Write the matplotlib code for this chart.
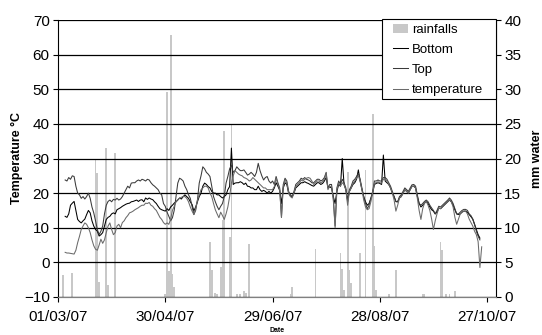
import matplotlib
matplotlib.use("Agg")
import matplotlib.pyplot as plt
import matplotlib.patches as mpatches
import pandas as pd

plt.rcParams['font.family'] = ['Liberation Sans', 'DejaVu Sans']

# ---------------- data ----------------
series_start = "2007-03-05"
temp_start = "2007-03-05"

bottom = [
    13.3, 13.0, 14.0, 16.5, 17.1, 17.6, 15.0, 12.4, 11.8, 11.4,
    12.0, 12.5, 13.8, 15.0, 14.3, 12.0, 10.5, 9.5, 9.0, 7.6,
    8.0, 8.6, 10.5, 12.4, 13.0, 13.3, 14.0, 14.3, 14.0, 15.2,
    15.5, 15.8, 16.2, 16.5, 16.8, 17.0, 17.1, 17.5, 17.6, 17.8,
    18.0, 17.6, 18.0, 18.1, 17.5, 18.6, 18.2, 18.6, 18.3, 18.1,
    17.5, 17.0, 16.2, 15.5, 15.2, 15.0, 14.8, 15.5, 15.0, 16.0,
    16.5, 17.1, 17.5, 18.0, 18.6, 18.3, 19.0, 19.5, 19.0, 18.5,
    17.5, 16.7, 14.8, 16.0, 17.5, 19.0, 20.0, 22.0, 22.9, 22.5,
    21.9, 21.5, 20.5, 20.0, 20.0, 19.5, 19.5, 19.0, 18.6, 19.0,
    19.5, 21.0, 21.9, 33.0, 22.5, 22.9, 23.0, 23.0, 23.3, 23.0,
    22.5, 22.9, 22.0, 21.9, 21.5, 21.5, 21.0, 21.0, 22.0, 21.0,
    20.5, 20.8, 20.5, 20.0, 20.5, 20.0, 20.5,
    21.5, 23.0, 22.0, 20.8, 17.0, 21.5, 23.0, 22.5, 20.0, 19.2,
    19.0, 20.0, 21.5, 22.0, 22.5, 23.0, 23.0, 23.3, 23.0, 22.8,
    22.5, 22.2, 22.0, 22.5, 23.0, 23.0, 22.5, 22.8, 23.5, 24.5,
    21.5, 21.8, 21.5, 19.0, 17.0, 20.5, 22.5, 22.0, 30.0, 22.5,
    21.0, 18.0, 20.5, 21.5, 22.5, 23.0, 24.0, 26.7, 23.5, 21.0,
    19.0, 17.5, 16.5, 17.0, 18.5, 20.0, 22.5, 22.8, 23.0, 22.8,
    22.5, 31.0, 23.5, 23.0, 22.5, 21.5, 20.0, 19.0, 17.6, 17.5,
    18.6, 19.0, 20.0, 21.0, 20.5, 20.0, 21.0, 22.0, 22.0, 21.5,
    19.0, 17.0, 16.0, 16.5, 17.1, 17.6, 17.0, 16.0, 15.2, 14.8,
    14.0, 14.5, 15.7, 15.5, 16.0, 16.5, 17.0, 17.5, 18.0, 17.5,
    16.5, 15.2, 14.0, 13.8, 14.0, 14.5, 14.8, 14.8, 14.5, 13.8,
    13.2, 12.5, 11.0, 9.5, 8.0, 7.0,
]

top = [
    23.8, 23.5, 24.5, 24.0, 25.0, 24.8, 22.0, 20.0, 19.5, 18.5,
    19.0, 18.3, 19.0, 20.0, 18.5, 16.0, 14.3, 12.0, 9.5, 8.0,
    9.0, 10.5, 14.0, 16.5, 17.6, 18.0, 17.5, 18.2, 18.0, 18.5,
    18.0, 18.3, 19.0, 20.0, 21.0, 22.0, 21.5, 22.9, 23.0, 23.0,
    23.5, 23.8, 23.5, 24.0, 23.8, 23.5, 24.0, 23.8, 23.0, 22.4,
    22.0, 21.5, 21.0, 20.0, 19.5, 17.0, 16.2, 14.5, 13.3, 12.0,
    12.9, 15.0, 19.0, 22.9, 24.3, 24.0, 23.5, 22.0, 21.0, 19.5,
    18.5, 16.2, 13.8, 15.0, 18.0, 22.9, 25.0, 27.6, 27.0, 26.0,
    25.5, 24.8, 22.0, 19.0, 17.5, 16.2, 15.2, 16.2, 17.0, 19.0,
    22.9, 24.8, 27.0, 28.1, 26.0, 26.5, 27.6, 27.0, 26.5, 26.5,
    26.7, 26.0, 25.2, 25.5, 26.0, 25.5, 24.8, 26.0, 28.6, 26.5,
    25.0, 23.8, 24.5, 24.8, 23.5, 22.9, 23.5,
    22.5, 24.8, 23.0, 21.5, 13.0, 22.5, 24.3, 23.5, 20.5, 19.5,
    19.0, 20.5, 22.5, 23.0, 23.5, 24.3, 24.0, 24.5, 24.0, 23.8,
    23.5, 23.0, 23.0, 23.5, 24.0, 24.0, 23.5, 23.8, 24.5, 26.0,
    21.5, 22.5, 22.5, 18.5, 10.5, 21.5, 23.5, 22.5, 24.0, 23.0,
    21.5, 17.5, 21.0, 22.0, 23.5, 24.0, 24.8, 25.7, 24.0, 21.5,
    19.0, 17.0, 15.5, 16.5, 18.5, 20.5, 23.5, 23.5, 23.8, 23.5,
    23.5, 24.5, 24.5, 24.0, 23.0, 22.0, 20.5, 19.0, 17.5, 17.5,
    19.0, 19.5, 20.5, 21.5, 21.0, 20.5, 21.5, 22.4, 22.5, 22.0,
    19.5, 17.0, 16.5, 17.0, 17.6, 18.0, 17.5, 16.5, 15.7, 15.0,
    14.0, 15.0, 16.2, 16.0, 16.5, 17.0, 17.5, 18.0, 18.6, 18.0,
    17.0, 15.5, 14.0, 14.0, 14.5, 15.0, 15.3, 15.3, 15.0, 14.0,
    13.5, 12.5, 11.0, 9.0, 7.6, 6.5,
]

temperature = [
    2.9, 2.7, 2.7, 2.6, 2.5, 2.4, 3.5, 5.7, 7.5, 9.5,
    10.5, 11.4, 11.0, 10.0, 8.6, 6.5, 4.8, 3.8, 3.5, 5.0,
    6.7, 5.5, 6.5, 8.6, 10.5, 11.4, 9.5, 8.0, 8.6, 10.5,
    11.0, 10.0, 11.5, 12.0, 12.9, 13.5, 14.3, 14.5, 14.8, 15.2,
    15.5, 15.8, 16.2, 16.5, 16.5, 17.1, 17.0, 17.3, 16.5, 16.2,
    15.5, 15.0, 14.0, 13.0, 12.4, 11.5, 11.0, 11.4, 11.0, 12.5,
    15.0, 16.2, 17.5, 18.1, 18.5, 18.8, 19.0, 19.0, 18.5, 17.5,
    16.0, 14.8, 13.8, 15.5, 18.0, 19.5, 21.0, 21.5, 22.0, 22.0,
    21.5, 20.0, 19.0, 17.0, 15.2, 14.0, 12.9, 14.5, 13.5, 12.4,
    14.0, 16.0, 19.0, 22.9, 25.0, 26.5, 26.0, 25.5, 25.2, 25.0,
    24.5, 24.3, 24.0, 23.5, 23.8, 24.5, 24.0, 23.5, 23.0, 22.5,
    22.0, 21.5, 21.5, 21.0, 21.0, 21.0, 21.0,
    21.9, 24.3, 22.5, 21.0, 13.0, 21.9, 23.8, 23.0, 20.0, 19.0,
    18.6, 20.0, 21.9, 22.5, 22.9, 23.8, 23.5, 24.0, 24.3, 24.5,
    24.3, 23.5, 22.5, 23.0, 23.5, 23.5, 23.0, 23.3, 24.0, 25.7,
    21.0, 22.0, 21.9, 18.1, 10.0, 21.0, 22.9, 22.0, 23.0, 22.5,
    21.0, 16.5, 20.5, 21.5, 22.9, 23.5, 24.3, 25.0, 23.5, 21.0,
    18.0, 16.0, 15.2, 15.5, 17.5, 20.0, 22.9, 23.0, 23.3, 23.0,
    22.9, 24.0, 24.0, 23.5, 22.5, 21.5, 20.0, 18.0, 14.8, 16.5,
    18.6, 19.0, 20.0, 21.0, 20.5, 20.0, 21.0, 21.9, 22.0, 21.5,
    18.5, 15.0, 12.4, 15.5, 17.1, 17.6, 16.5, 15.0, 12.5, 9.5,
    12.0, 14.0, 15.7, 15.5, 16.0, 16.5, 17.0, 17.5, 18.1, 17.5,
    16.0, 13.0, 11.0, 12.5, 14.0, 14.5, 14.8, 14.8, 14.0, 12.5,
    11.5, 10.5, 9.0, 8.0, 6.0, -1.5, 4.5,
]

rain_dates = [
    "2007-03-04", "2007-03-09", "2007-03-22", "2007-03-23", "2007-03-24",
    "2007-03-28", "2007-03-29", "2007-04-02", "2007-04-30", "2007-05-01",
    "2007-05-02", "2007-05-03", "2007-05-04", "2007-05-05", "2007-05-25",
    "2007-05-26", "2007-05-28", "2007-05-29", "2007-05-31", "2007-06-01",
    "2007-06-02", "2007-06-05", "2007-06-06", "2007-06-09", "2007-06-11",
    "2007-06-13", "2007-06-14", "2007-06-16", "2007-07-09", "2007-07-10",
    "2007-07-23", "2007-08-06", "2007-08-07", "2007-08-08", "2007-08-10",
    "2007-08-11", "2007-08-12", "2007-08-17", "2007-08-20", "2007-08-24",
    "2007-08-25", "2007-08-26", "2007-09-02", "2007-09-06", "2007-09-21",
    "2007-09-22", "2007-10-01", "2007-10-02", "2007-10-04", "2007-10-06",
    "2007-10-09",
]
rain_mm = [
    3.2, 3.5, 20.0, 17.9, 2.2,
    21.5, 1.7, 20.8, 0.5, 29.6,
    3.7, 37.9, 3.3, 1.4, 8.0,
    3.9, 0.6, 0.5, 4.4, 11.1,
    24.0, 8.7, 25.0, 0.5, 0.5,
    0.8, 0.6, 7.6, 0.5, 1.5,
    7.0, 6.3, 4.0, 1.0, 18.0,
    3.9, 2.0, 6.3, 18.3, 26.4,
    7.3, 1.0, 0.5, 3.9, 0.5,
    0.5, 8.0, 6.8, 0.4, 0.5,
    0.8,
]

tick_labels = ["01/03/07", "30/04/07", "29/06/07", "28/08/07", "27/10/07"]
left_ticks = [-10, 0, 10, 20, 30, 40, 50, 60, 70]
right_ticks = [0, 5, 10, 15, 20, 25, 30, 35, 40]
legend_labels = ["rainfalls", "Bottom", "Top", "temperature"]

# ---------------- figure ----------------
W, H = 542, 335
fig = plt.figure(figsize=(W / 100, H / 100), dpi=100)
L, R, T, B = 58, 496, 20, 297
ax = fig.add_axes([L / W, 1 - B / H, (R - L) / W, (B - T) / H])
ax2 = ax.twinx()
ax.set_zorder(ax2.get_zorder() + 1)
ax.patch.set_visible(False)

d_lines = pd.date_range(series_start, periods=len(bottom), freq="D")
d_temp = pd.date_range(temp_start, periods=len(temperature), freq="D")
d_rain = pd.to_datetime(rain_dates)

bars = ax2.bar(d_rain, rain_mm, width=1.0, color="#c8c8c8", linewidth=0,
               label="rainfalls")
l1, = ax.plot(d_lines, bottom, color="#000000", lw=0.75, label="Bottom")
l2, = ax.plot(d_lines, top, color="#3a3a3a", lw=0.75, label="Top")
l3, = ax.plot(d_temp, temperature, color="#6a6a6a", lw=0.75, label="temperature")

xt = pd.to_datetime(tick_labels, format="%d/%m/%y")
ax.set_xlim(pd.Timestamp("2007-03-01"), pd.Timestamp("2007-11-01"))
ax.set_xticks(xt)
ax.set_xticklabels(tick_labels)
ax.set_ylim(-10, 70)
ax.set_yticks(left_ticks)
ax2.set_ylim(0, 40)
ax2.set_yticks(right_ticks)

ax.yaxis.grid(True, color="#000000", lw=0.9)
ax.set_axisbelow(True)

for a in (ax, ax2):
    a.spines["top"].set_visible(False)
    a.spines["bottom"].set_color("#808080")
    a.spines["left"].set_color("#000000")
    a.spines["right"].set_color("#000000")
ax2.spines["left"].set_visible(False)
ax.spines["right"].set_visible(False)

ax.tick_params(axis="y", direction="out", length=3.5, width=0.8, pad=2.5,
               labelsize=11)
ax.tick_params(axis="x", direction="out", length=3.5, width=0.8, pad=6,
               labelsize=11, color="#000000")
ax2.tick_params(axis="y", direction="out", length=3.5, width=0.8, pad=2.5,
                labelsize=11)

ax.set_ylabel("Temperature °C", fontsize=9, fontweight="bold",
              rotation=90, va="center", ha="center", rotation_mode="default")
ax.yaxis.set_label_coords((16.5 - L) / (R - L), 0.5)
ax2.set_ylabel("mm water", fontsize=9, fontweight="bold",
               rotation=90, va="center", ha="center", rotation_mode="default")
ax2.yaxis.set_label_coords((537 - L) / (R - L), 0.5)
ax.set_xlabel("Date", fontsize=5, fontweight="bold")
ax.xaxis.set_label_coords(0.5, (B - 327.5) / (B - T))

# legend: frame drawn separately so that padding matches the reference
leg = ax.legend([bars, l1, l2, l3], legend_labels,
                loc="upper left", bbox_to_anchor=(393 / W, 1 - 23.5 / H),
                bbox_transform=fig.transFigure, borderaxespad=0, borderpad=0,
                fontsize=9.5, frameon=False, handlelength=1.15,
                handletextpad=0.3, labelspacing=0.6)
box = mpatches.Rectangle((381.7 / W, 1 - 99.3 / H), (R - 381.7) / W,
                         (99.3 - 19.3) / H, transform=fig.transFigure,
                         facecolor="white", edgecolor="#000000", lw=0.8,
                         zorder=4)
ax.add_artist(box)
box.set_clip_on(False)
leg.set_zorder(5)

fig.savefig("out.png", dpi=100)
